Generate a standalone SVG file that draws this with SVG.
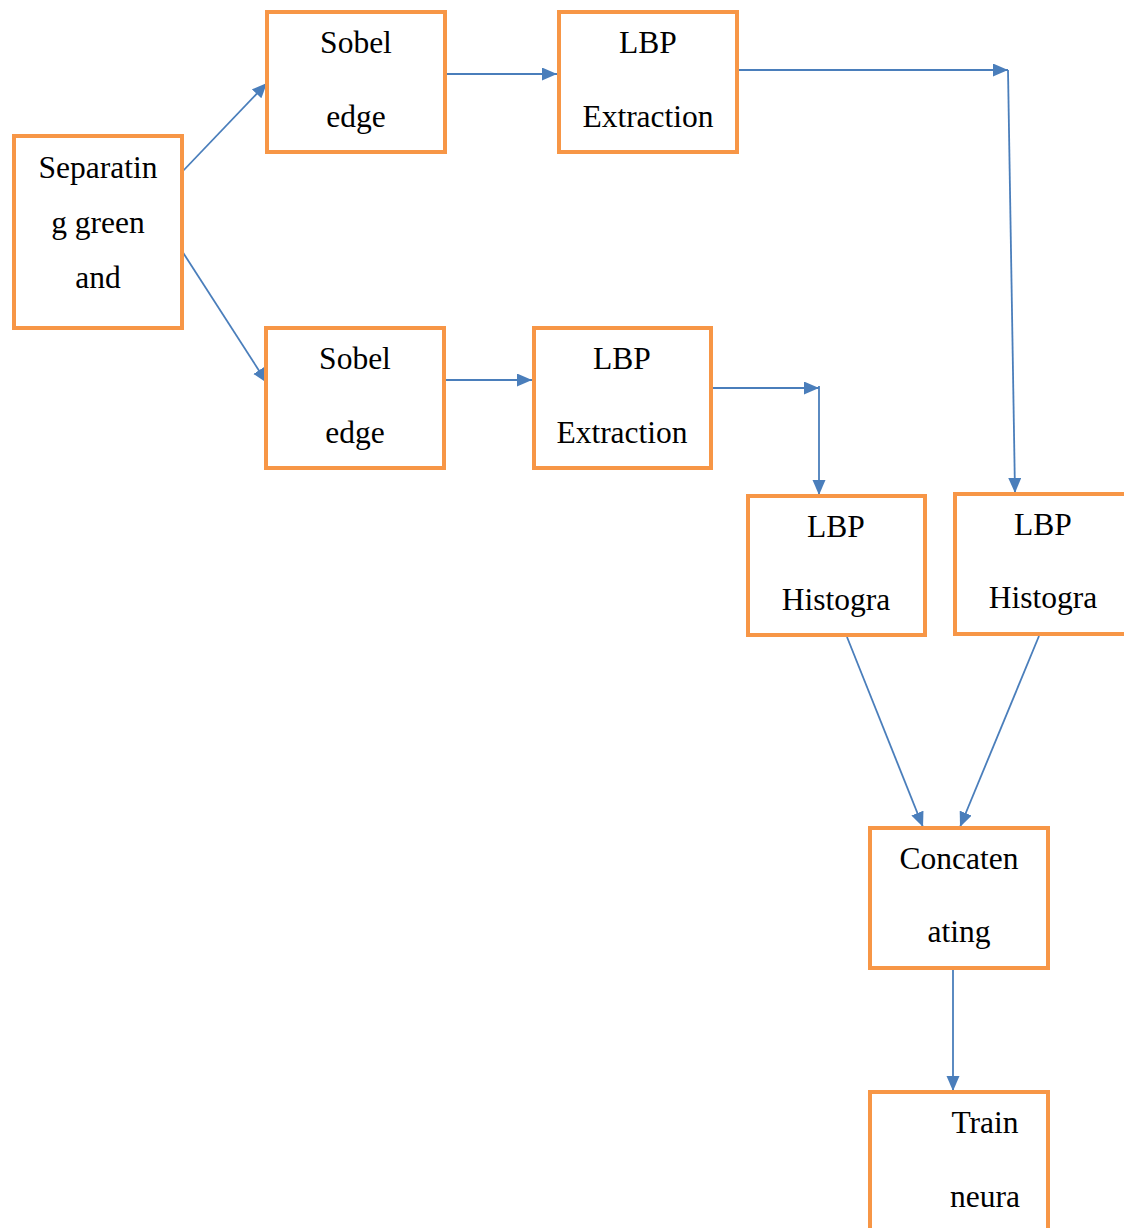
<svg xmlns="http://www.w3.org/2000/svg" width="1124" height="1228" viewBox="0 0 1124 1228">
  <style>
    .box { fill: #ffffff; stroke: #F79646; stroke-width: 4; }
    .lbl { font-family: "Liberation Serif", "Times New Roman", serif; font-size: 31.5px; fill: #000000; text-anchor: middle; }
    .wire { fill: none; stroke: #4A7EBB; stroke-width: 1.8; }
    .arrow { marker-end: url(#head); }
  </style>
  <defs>
    <marker id="head" markerUnits="userSpaceOnUse" markerWidth="16" markerHeight="14" refX="15" refY="6.5" orient="auto">
      <path d="M0,0 L15,6.5 L0,13 Z" fill="#4A7EBB"/>
    </marker>
  </defs>
  <rect width="1124" height="1228" fill="#ffffff"/>

  <!-- connectors -->
  <g id="connectors">
    <line class="wire arrow" x1="182" y1="172" x2="267" y2="83"/>
    <line class="wire arrow" x1="182" y1="251" x2="267" y2="383"/>
    <line class="wire arrow" x1="446" y1="74" x2="557" y2="74"/>
    <line class="wire arrow" x1="738" y1="70" x2="1008" y2="70"/>
    <line class="wire arrow" x1="1008" y1="70" x2="1015" y2="493"/>
    <line class="wire arrow" x1="446" y1="380" x2="532" y2="380"/>
    <line class="wire arrow" x1="712" y1="388" x2="819" y2="388"/>
    <line class="wire arrow" x1="819" y1="386" x2="819" y2="495"/>
    <line class="wire arrow" x1="847" y1="637" x2="923" y2="827"/>
    <line class="wire arrow" x1="1039" y1="636" x2="960" y2="827"/>
    <line class="wire arrow" x1="953" y1="970" x2="953" y2="1091"/>
  </g>

  <g id="separating">
    <rect class="box" x="14" y="136" width="168" height="192"/>
    <text class="lbl" x="98" y="178">Separatin</text>
    <text class="lbl" x="98" y="233">g green</text>
    <text class="lbl" x="98" y="288">and</text>
  </g>

  <g id="sobel-top">
    <rect class="box" x="267" y="12" width="178" height="140"/>
    <text class="lbl" x="356" y="53">Sobel</text>
    <text class="lbl" x="356" y="127">edge</text>
  </g>

  <g id="lbp-extraction-top">
    <rect class="box" x="559" y="12" width="178" height="140"/>
    <text class="lbl" x="648" y="53">LBP</text>
    <text class="lbl" x="648" y="127">Extraction</text>
  </g>

  <g id="sobel-bottom">
    <rect class="box" x="266" y="328" width="178" height="140"/>
    <text class="lbl" x="355" y="369">Sobel</text>
    <text class="lbl" x="355" y="443">edge</text>
  </g>

  <g id="lbp-extraction-bottom">
    <rect class="box" x="534" y="328" width="177" height="140"/>
    <text class="lbl" x="622" y="369">LBP</text>
    <text class="lbl" x="622" y="443">Extraction</text>
  </g>

  <g id="lbp-histogram-left">
    <rect class="box" x="748" y="496" width="177" height="139"/>
    <text class="lbl" x="836" y="537">LBP</text>
    <text class="lbl" x="836" y="610">Histogra</text>
  </g>

  <g id="lbp-histogram-right">
    <rect class="box" x="955" y="494" width="178" height="140"/>
    <text class="lbl" x="1043" y="535">LBP</text>
    <text class="lbl" x="1043" y="608">Histogra</text>
  </g>

  <g id="concatenating">
    <rect class="box" x="870" y="828" width="178" height="140"/>
    <text class="lbl" x="959" y="869">Concaten</text>
    <text class="lbl" x="959" y="942">ating</text>
  </g>

  <g id="train">
    <rect class="box" x="870" y="1092" width="178" height="160"/>
    <text class="lbl" x="985" y="1133">Train</text>
    <text class="lbl" x="985" y="1207">neura</text>
  </g>
</svg>
